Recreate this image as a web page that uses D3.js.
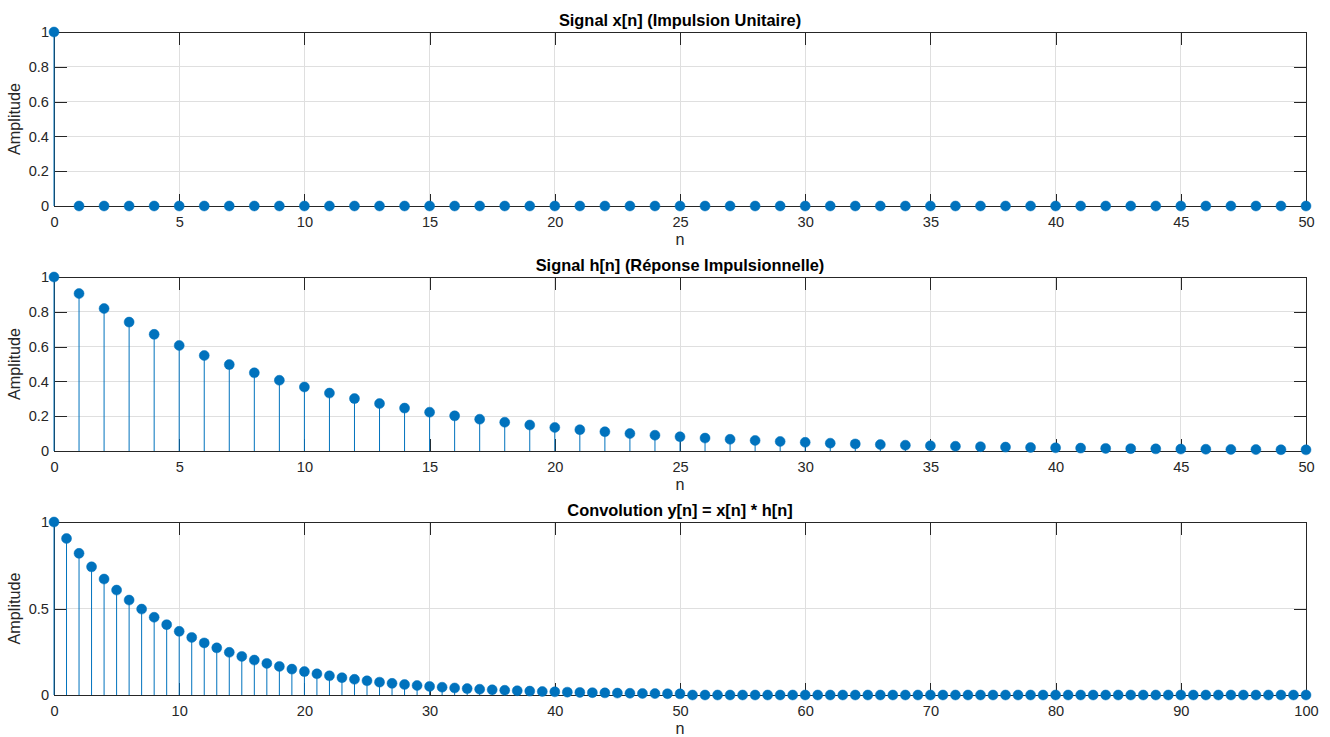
<!DOCTYPE html>
<html>
<head>
<meta charset="utf-8">
<script src="https://cdn.jsdelivr.net/npm/d3@7"></script>
<style>
  html, body { margin: 0; padding: 0; background: #fff; }
  svg { display: block; }
  text { font-family: "Liberation Sans", Arial, Helvetica, sans-serif; fill: #262626; }
</style>
</head>
<body>
<svg id="fig" width="1330" height="737"></svg>
<script>
// Unit impulse x[n], n = 0..50
const impulseValues = [1,
  0, 0, 0, 0, 0, 0, 0, 0, 0, 0,
  0, 0, 0, 0, 0, 0, 0, 0, 0, 0,
  0, 0, 0, 0, 0, 0, 0, 0, 0, 0,
  0, 0, 0, 0, 0, 0, 0, 0, 0, 0,
  0, 0, 0, 0, 0, 0, 0, 0, 0, 0];

// Impulse response h[n], n = 0..50
const responseValues = [
  1.0000, 0.9048, 0.8187, 0.7408, 0.6703, 0.6065, 0.5488, 0.4966, 0.4493, 0.4066,
  0.3679, 0.3329, 0.3012, 0.2725, 0.2466, 0.2231, 0.2019, 0.1827, 0.1653, 0.1496,
  0.1353, 0.1225, 0.1108, 0.1003, 0.0907, 0.0821, 0.0743, 0.0672, 0.0608, 0.0550,
  0.0498, 0.0450, 0.0408, 0.0369, 0.0334, 0.0302, 0.0273, 0.0247, 0.0224, 0.0202,
  0.0183, 0.0166, 0.0150, 0.0136, 0.0123, 0.0111, 0.0101, 0.0091, 0.0082, 0.0074,
  0.0067];

// Convolution output y[n], n = 0..100
const convolutionValues = [
  1.0000, 0.9048, 0.8187, 0.7408, 0.6703, 0.6065, 0.5488, 0.4966, 0.4493, 0.4066,
  0.3679, 0.3329, 0.3012, 0.2725, 0.2466, 0.2231, 0.2019, 0.1827, 0.1653, 0.1496,
  0.1353, 0.1225, 0.1108, 0.1003, 0.0907, 0.0821, 0.0743, 0.0672, 0.0608, 0.0550,
  0.0498, 0.0450, 0.0408, 0.0369, 0.0334, 0.0302, 0.0273, 0.0247, 0.0224, 0.0202,
  0.0183, 0.0166, 0.0150, 0.0136, 0.0123, 0.0111, 0.0101, 0.0091, 0.0082, 0.0074,
  0.0067,
  0, 0, 0, 0, 0, 0, 0, 0, 0, 0,
  0, 0, 0, 0, 0, 0, 0, 0, 0, 0,
  0, 0, 0, 0, 0, 0, 0, 0, 0, 0,
  0, 0, 0, 0, 0, 0, 0, 0, 0, 0,
  0, 0, 0, 0, 0, 0, 0, 0, 0, 0];

// Tick values per panel
const xTicksShort = [0, 5, 10, 15, 20, 25, 30, 35, 40, 45, 50];
const xTicksLong = [0, 10, 20, 30, 40, 50, 60, 70, 80, 90, 100];
const yTicksFine = [0, 0.2, 0.4, 0.6, 0.8, 1];
const yTicksCoarse = [0, 0.5, 1];

const titles = [
  "Signal x[n] (Impulsion Unitaire)",
  "Signal h[n] (Réponse Impulsionnelle)",
  "Convolution y[n] = x[n] * h[n]"
];

const panels = [
  { title: titles[0], values: impulseValues, xMax: 50, xTicks: xTicksShort, yTicks: yTicksFine, top: 32, bottom: 206 },
  { title: titles[1], values: responseValues, xMax: 50, xTicks: xTicksShort, yTicks: yTicksFine, top: 277, bottom: 451 },
  { title: titles[2], values: convolutionValues, xMax: 100, xTicks: xTicksLong, yTicks: yTicksCoarse, top: 522, bottom: 695 }
];

const LEFT = 54, RIGHT = 1306;
const AXIS = "#262626", GRID = "#dfdfdf", BLUE = "#0072BD";
const TICK = 12.5;
const TICK_FONT = "14.6px", LABEL_FONT = "16.2px", TITLE_FONT = "16.4px";

const svg = d3.select("#fig");

panels.forEach(p => {
  const x = d3.scaleLinear().domain([0, p.xMax]).range([LEFT, RIGHT]);
  const y = d3.scaleLinear().domain([0, 1]).range([p.bottom, p.top]);
  const g = svg.append("g");

  // grid
  g.append("g").selectAll("line").data(p.xTicks).join("line")
    .attr("x1", d => x(d)).attr("x2", d => x(d))
    .attr("y1", p.top).attr("y2", p.bottom)
    .attr("stroke", GRID).attr("stroke-width", 1).attr("shape-rendering", "crispEdges");
  g.append("g").selectAll("line").data(p.yTicks).join("line")
    .attr("x1", LEFT).attr("x2", RIGHT)
    .attr("y1", d => y(d)).attr("y2", d => y(d))
    .attr("stroke", GRID).attr("stroke-width", 1).attr("shape-rendering", "crispEdges");

  // axes (inward ticks on all four sides)
  const bottomAxis = d3.axisBottom(x).tickValues(p.xTicks).tickSize(-TICK).tickPadding(10.5).tickFormat(d3.format("d"));
  const topAxis = d3.axisTop(x).tickValues(p.xTicks).tickSize(-TICK).tickFormat("");
  const leftAxis = d3.axisLeft(y).tickValues(p.yTicks).tickSize(-TICK).tickPadding(5).tickFormat(d => d3.format("")(d));
  const rightAxis = d3.axisRight(y).tickValues(p.yTicks).tickSize(-TICK).tickFormat("");

  const styleAxis = sel => {
    sel.selectAll(".domain").attr("stroke", AXIS).attr("stroke-width", 1).attr("shape-rendering", "crispEdges");
    sel.selectAll(".tick line").attr("stroke", AXIS).attr("stroke-width", 1).attr("shape-rendering", "crispEdges");
    sel.selectAll(".tick text").attr("fill", AXIS)
      .style("font-family", '"Liberation Sans", Arial, sans-serif').style("font-size", TICK_FONT);
  };

  g.append("g").attr("transform", `translate(0,${p.bottom})`).call(bottomAxis).call(styleAxis);
  g.append("g").attr("transform", `translate(0,${p.top})`).call(topAxis).call(styleAxis);
  g.append("g").attr("transform", `translate(${LEFT},0)`).call(leftAxis).call(styleAxis);
  g.append("g").attr("transform", `translate(${RIGHT},0)`).call(rightAxis).call(styleAxis);

  // stems
  const pts = p.values.map((v, i) => ({ n: i, v }));
  g.append("g").selectAll("line").data(pts).join("line")
    .attr("x1", d => x(d.n)).attr("x2", d => x(d.n))
    .attr("y1", y(0)).attr("y2", d => y(d.v))
    .attr("stroke", BLUE).attr("stroke-width", 1);

  // markers
  g.append("g").selectAll("circle").data(pts).join("circle")
    .attr("cx", d => x(d.n)).attr("cy", d => y(d.v)).attr("r", 5)
    .attr("fill", BLUE).attr("stroke", BLUE).attr("stroke-width", 0.5);

  // title
  g.append("text")
    .attr("x", (LEFT + RIGHT) / 2).attr("y", p.top - 6)
    .attr("text-anchor", "middle")
    .style("font-size", TITLE_FONT).style("font-weight", "bold").style("fill", "#000")
    .text(p.title);

  // x label
  g.append("text")
    .attr("x", (LEFT + RIGHT) / 2).attr("y", p.bottom + 39)
    .attr("text-anchor", "middle")
    .style("font-size", LABEL_FONT)
    .text("n");

  // y label
  g.append("text")
    .attr("transform", `translate(20,${(p.top + p.bottom) / 2}) rotate(-90)`)
    .attr("text-anchor", "middle")
    .style("font-size", LABEL_FONT)
    .text("Amplitude");
});
</script>
</body>
</html>
